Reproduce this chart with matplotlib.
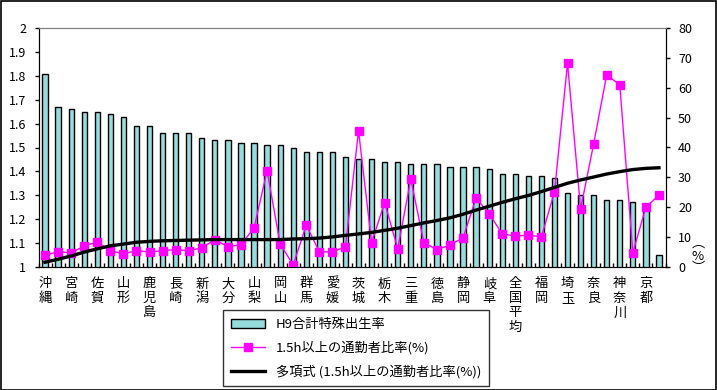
import numpy as np
import matplotlib
matplotlib.use("Agg")
import matplotlib.pyplot as plt
from matplotlib.lines import Line2D
from matplotlib.patches import Patch

plt.rcParams['font.family'] = ['Noto Sans CJK JP', 'DejaVu Sans']

# 47 prefectures + national average, sorted by TFR; only every other name is shown
labels = ['沖縄', '', '宮崎', '', '佐賀', '', '山形', '', '鹿児島', '', '長崎', '',
          '新潟', '', '大分', '', '山梨', '', '岡山', '', '群馬', '', '愛媛', '',
          '茨城', '', '栃木', '', '三重', '', '徳島', '', '静岡', '', '岐阜', '',
          '全国平均', '', '福岡', '', '埼玉', '', '奈良', '', '神奈川', '', '京都', '']

# H9 total fertility rate (left axis)
tfr = [1.81, 1.67, 1.66, 1.65, 1.65, 1.64, 1.63, 1.59, 1.59, 1.56, 1.56, 1.56,
       1.54, 1.53, 1.53, 1.52, 1.52, 1.51, 1.51, 1.50, 1.48, 1.48, 1.48, 1.46,
       1.45, 1.45, 1.44, 1.44, 1.43, 1.43, 1.43, 1.42, 1.42, 1.42, 1.41, 1.39,
       1.39, 1.38, 1.38, 1.37, 1.31, 1.30, 1.30, 1.28, 1.28, 1.27, 1.26, 1.05]

# share of commuters taking 1.5h or more (%) (right axis)
commute = [3.9, 5.0, 4.7, 6.9, 8.3, 5.4, 4.3, 5.4, 4.9, 5.4, 5.7, 5.4,
           6.3, 9.1, 6.7, 7.4, 13.0, 32.2, 7.6, 0.6, 14.0, 5.0, 5.0, 6.7,
           45.6, 8.1, 21.5, 6.0, 29.4, 8.1, 5.7, 7.3, 9.7, 23.0, 17.8, 11.0,
           10.3, 10.6, 10.0, 25.1, 68.3, 19.4, 41.2, 64.4, 61.0, 4.7, 20.0, 24.0]

# polynomial trend line of the commuter share
trend = [1.5, 2.5, 3.6, 4.9, 6.0, 7.0, 7.6, 8.2, 8.5, 8.7, 8.8, 8.9,
         9.0, 9.1, 9.1, 9.1, 9.1, 9.1, 9.1, 9.3, 9.4, 9.6, 10.0, 10.5,
         11.0, 11.5, 12.2, 12.9, 13.8, 14.7, 15.5, 16.4, 17.6, 19.0, 20.3, 21.6,
         22.8, 23.9, 25.2, 26.6, 28.0, 29.1, 30.1, 31.1, 31.9, 32.6, 33.0, 33.2]

x = np.arange(len(tfr))
bar_color = '#96DCDC'
pink = '#FF00FF'

fig = plt.figure(figsize=(7.17, 3.90), dpi=100)
W, H = 717, 390
ax = fig.add_axes([38.5 / W, 1 - 266.7 / H, (665.5 - 38.5) / W, (266.7 - 28.3) / H])

ax.bar(x, tfr, width=0.4, bottom=0, color=bar_color, edgecolor='black', linewidth=1)
ax.set_xlim(-0.5, len(x) - 0.5)
ax.set_ylim(1, 2)
yt = np.round(np.arange(1.0, 2.01, 0.1), 1)
ax.set_yticks(yt)
ax.set_yticklabels(['1' if v == 1 else ('2' if v == 2 else f'{v:.1f}') for v in yt], fontsize=9)
ax.tick_params(axis='y', direction='out', length=3, width=1, pad=6)

# category boundaries as small inward ticks, vertical labels under every other bar
ax.set_xticks(np.arange(-0.5, len(x) + 0.5, 1))
ax.set_xticklabels([])
ax.tick_params(axis='x', direction='in', length=3, width=1)
for i, name in enumerate(labels):
    if name:
        ax.text(i, -0.045, '\n'.join(name), transform=ax.get_xaxis_transform(),
                ha='center', va='top', fontsize=9.5, linespacing=1.15)

for s in ['left', 'right', 'bottom']:
    ax.spines[s].set_color('black')
ax.spines['top'].set_color('#808080')

ax2 = ax.twinx()
ax2.set_ylim(0, 80)
ax2.set_yticks(np.arange(0, 81, 10))
ax2.tick_params(axis='y', direction='out', length=3, width=1, pad=6, labelsize=9)
ax2.plot(x, commute, color=pink, linewidth=1, marker='s', markersize=5.5,
         markerfacecolor=pink, markeredgecolor=pink)
ax2.plot(x, trend, color='black', linewidth=2.4)
ax2.spines['top'].set_color('#808080')

fig.text(698 / W, 1 - 256 / H, '︵\n%\n︶', ha='center', va='center', fontsize=9.5, linespacing=1.0)

handles = [Patch(facecolor=bar_color, edgecolor='black', linewidth=1),
           Line2D([], [], color=pink, linewidth=1, marker='s', markersize=5.5),
           Line2D([], [], color='black', linewidth=2.4)]
names = ['H9合計特殊出生率', '1.5h以上の通勤者比率(%)', '多項式 (1.5h以上の通勤者比率(%))']
leg = fig.legend(handles, names, loc='upper left', bbox_to_anchor=(223 / W, 1 - 310 / H),
                 fontsize=9.5, frameon=True, fancybox=False, edgecolor='black',
                 borderaxespad=0, handlelength=2.6, labelspacing=0.75, borderpad=0.6)
leg.get_frame().set_linewidth(1)

# outer chart border
fig.patches.append(plt.Rectangle((0.5 / W, 0.5 / H), 1 - 1.5 / W, 1 - 1.5 / H,
                                 transform=fig.transFigure, fill=False,
                                 edgecolor='black', linewidth=1.2))

fig.savefig('out.png', dpi=100)
